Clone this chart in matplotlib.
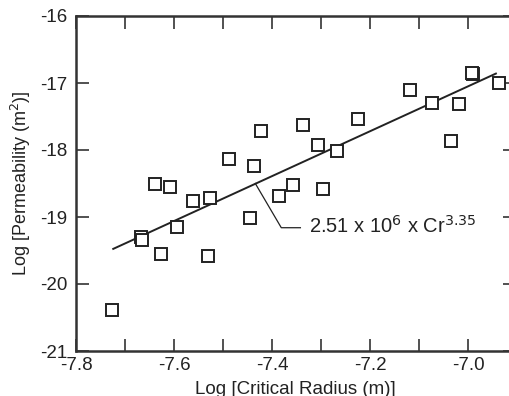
import numpy as np
import matplotlib
matplotlib.use("Agg")
import matplotlib.pyplot as plt
from matplotlib.ticker import MultipleLocator

plt.rcParams['font.family'] = ['Liberation Sans', 'DejaVu Sans']

# measured points: log critical radius (m), log permeability (m^2)
log_cr = [-7.726, -7.667, -7.665, -7.638, -7.608, -7.626, -7.593, -7.561, -7.526,
          -7.530, -7.487, -7.436, -7.444, -7.422, -7.336, -7.307, -7.268, -7.358,
          -7.385, -7.295, -7.225, -7.119, -7.074, -7.019, -7.035, -6.990, -6.992,
          -6.937]
log_k = [-20.39, -19.30, -19.35, -18.50, -18.55, -19.55, -19.15, -18.76, -18.72,
         -19.58, -18.13, -18.24, -19.01, -17.72, -17.63, -17.93, -18.01, -18.52,
         -18.69, -18.58, -17.53, -17.11, -17.30, -17.32, -17.86, -16.87, -16.85,
         -17.00]

# power-law fit k = 2.51e6 * Cr^3.35
coef = 2.51e6
expo = 3.35
fit_x = np.array([-7.724, -6.943])
fit_y = np.log10(coef) + expo * fit_x

fig = plt.figure(figsize=(5.09, 3.96), dpi=100)
ax = fig.add_axes([76 / 509, 1 - 351 / 396, (515 - 76) / 509, (351 - 16) / 396])

ax.plot(log_cr, log_k, 's', ms=8.2, mfc='white', mec='#222222', mew=1.4, zorder=3)
ax.plot(fit_x, fit_y, '-', color='#222222', lw=1.4, zorder=2)

# leader line to the equation label
ax.plot([-7.434, -7.381, -7.342], [-18.50, -19.16, -19.16], '-', color='#222222', lw=0.9)
ax.text(-7.324, -19.13, r'2.51 x 10$^{6}$ x Cr$^{3.35}$', fontsize=14.5,
        va='center', ha='left', color='#222222')

ax.set_xlim(-7.8, -6.904)
ax.set_ylim(-21, -16)
ax.xaxis.set_minor_locator(MultipleLocator(0.1))
ax.set_xticks([-7.8, -7.6, -7.4, -7.2, -7.0])
ax.set_xticklabels(['-7.8', '-7.6', '-7.4', '-7.2', '-7.0'])
ax.set_yticks([-21, -20, -19, -18, -17, -16])
ax.set_yticklabels(['-21', '-20', '-19', '-18', '-17', '-16'])

ax.tick_params(which='both', direction='in', top=True, right=True,
               labelsize=13.5, colors='#222222', width=1.1)
ax.tick_params(axis='x', which='both', pad=4)
ax.tick_params(axis='y', which='both', pad=6)
ax.tick_params(which='major', length=9)
ax.tick_params(which='minor', length=9)
for s in ax.spines.values():
    s.set_linewidth(1.8)
    s.set_color('#333333')

ax.set_xlabel('Log [Critical Radius (m)]', fontsize=13.5, color='#222222', labelpad=5)
ax.set_ylabel(r'Log [Permeability (m$^{2}$)]', fontsize=13, color='#222222', labelpad=5)

fig.savefig('out.png', dpi=100)
